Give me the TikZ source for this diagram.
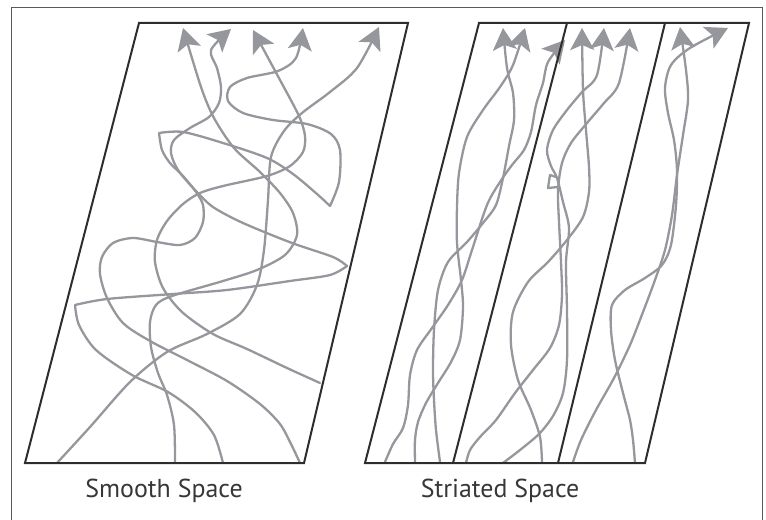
\documentclass[tikz,border=0pt]{standalone}
\usepackage{fontspec}
\setmainfont{PT Sans}
\usetikzlibrary{arrows.meta}

\definecolor{wiregray}{RGB}{150,151,156}
\definecolor{edgegray}{RGB}{45,45,45}
\definecolor{framegray}{RGB}{90,90,90}
\definecolor{textgray}{RGB}{55,55,55}

\begin{document}
\begin{tikzpicture}[x=1bp, y=-1bp,
  wire/.style={draw=wiregray, line width=2.3bp, line join=round, line cap=round},
  tipped/.style={wire, -{Stealth[length=22bp, width=24bp, inset=5bp]}},
  border/.style={draw=edgegray, line width=2bp},
  caption/.style={font=\fontsize{26}{30}\selectfont, text=textgray, anchor=base, inner sep=0pt}]
  \useasboundingbox (0,0) rectangle (766,520);
  \draw[framegray, line width=1bp] (11,530) -- (11,8) -- (762,8) -- (762,530);

  % Smooth
  \coordinate (s0) at (25,463);
  \coordinate (s1) at (304,463);
  \coordinate (s2) at (408,23);
  \coordinate (s3) at (139,23);

  \draw[tipped] plot[smooth] coordinates {(57,463) (90,427) (130,382) (167,352) (207,334) (240,314) (257,285) (264,250) (268,200) (271,157) (284,131) (302,113) (330,92) (357,68) (379,27)};
  \draw[tipped] plot[smooth] coordinates {(320,383) (287,368) (247,349) (213,334) (182,312) (163,288) (155,262) (157,240) (167,221) (183,204) (200,193) (223,186) (267,176) (290,166) (303,152) (305,136) (299,116) (280,80) (253,30)};
  \draw[tipped] plot[smooth] coordinates {(175,463) (174,425) (167,395) (158,373) (151,347) (150,322) (156,305) (172,296) (223,281) (257,270) (285,255) (297,235) (293,213) (280,193) (260,172) (234,148) (214,118) (201,87) (183,28)};
  \draw[tipped] plot[smooth] coordinates {(223,463) (214,435) (195,412) (168,392) (132,375) (96,350) (79,325) (75,305)}
    -- plot[smooth] coordinates {(75,305) (107,299) (173,294) (227,290) (290,281) (330,275) (347,266)}
    -- plot[smooth] coordinates {(347,266) (333,257) (292,243) (243,223) (213,207) (195,190) (178,170) (171,153) (174,140) (190,128) (209,117) (219,103) (221,87) (217,68) (211,50) (231,29)};
  \draw[tipped] plot[smooth] coordinates {(300,463) (291,444) (280,424) (260,404) (227,381) (187,360) (150,341) (123,323) (107,298) (100,274) (102,257) (113,243) (133,238) (157,242) (180,245) (195,238) (203,222) (203,205) (196,192) (183,176) (170,163) (162,150) (159,133)}
    -- plot[smooth] coordinates {(159,133) (183,132) (223,143) (267,158) (293,174) (317,194) (330,206)}
    -- plot[smooth] coordinates {(330,206) (339,182) (340,150) (331,134) (307,124) (273,120) (243,113) (228,101) (230,87) (247,78) (278,71) (296,58) (303,28)};

  \draw[border] (s0) -- (s1) -- (s2) -- (s3) -- cycle;
  \node[caption] (smooth) at (164,497) {Smooth Space};

  % Striated
  \coordinate (r0) at (365,463);
  \coordinate (r1) at (645,463);
  \coordinate (r2) at (749,23);
  \coordinate (r3) at (479,23);
  \coordinate (d0) at (453,463);
  \coordinate (d1) at (567,23);
  \coordinate (e0) at (558,463);
  \coordinate (e1) at (665,23);

  % first strip
  \draw[tipped] plot[smooth] coordinates {(440,462) (436,430) (434,400) (433,370) (434,330) (438,290) (448,262) (467,242) (483,223) (496,205) (503,178) (509,146) (514,120) (513,93) (507,68) (503,28)};
  \draw[tipped] plot[smooth] coordinates {(415,462) (415,440) (418,422) (426,403) (438,383) (451,362) (460,340) (463,307) (461,280) (457,243) (457,207) (459,173) (467,137) (483,110) (500,87) (513,65) (525,28)};
  \draw[tipped] plot[smooth] coordinates {(385,462) (393,444) (403,428) (408,405) (410,375) (417,350) (432,328) (448,305) (462,280) (472,250) (487,205) (500,182) (512,165) (524,150) (531,132) (536,105) (543,83) (548,62) (565,40)};

  % second strip
  \draw[tipped] plot[smooth] coordinates {(542,462) (540,437) (531,410) (518,380) (511,345) (513,312) (528,282) (548,262) (567,240) (583,217) (589,192) (589,167) (586,130) (583,90) (582,28)};
  \draw[tipped] plot[smooth] coordinates {(503,463) (520,450) (539,434) (553,416) (563,393) (567,360) (567,310) (566,262) (569,228) (563,202) (557,178) (551,166) (547,150) (553,130) (567,110) (582,92) (597,75) (604,28)};
  \draw[wire] (556,177) -- (550,175) -- (548,188) -- (558,187);
  \draw[tipped] plot[smooth] coordinates {(466,463) (470,450) (480,437) (496,420) (515,393) (533,370) (550,348) (559,325) (562,295) (561,262) (559,222) (558,190) (562,163) (571,143) (587,123) (604,103) (619,83) (630,28)};

  % third strip
  \draw[tipped] plot[smooth] coordinates {(573,462) (581,440) (596,410) (614,378) (630,345) (643,312) (655,280) (665,250) (672,215) (677,175) (683,135) (688,100) (686,70) (680,27)};
  \draw[tipped] plot[smooth] coordinates {(635,463) (633,440) (630,420) (623,393) (615,360) (611,330) (612,305) (625,290) (645,278) (662,265) (671,245) (676,205) (677,170) (674,140) (668,113) (665,88) (671,65) (690,48) (728,28)};

  \draw[border] (r0) -- (r1) -- (r2) -- (r3) -- cycle;
  \draw[border] (d0) -- (d1);
  \draw[border] (e0) -- (e1);
  \node[caption] (striated) at (500,497) {Striated Space};
\end{tikzpicture}
\end{document}
